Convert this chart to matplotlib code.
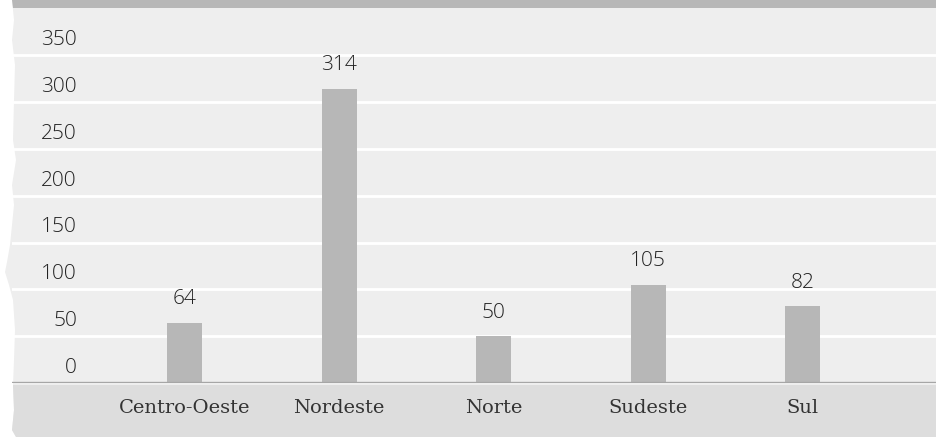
import matplotlib.pyplot as plt
from matplotlib.patches import Polygon

regions = ['Centro-Oeste', 'Nordeste', 'Norte', 'Sudeste', 'Sul']
counts = [64, 314, 50, 105, 82]
y_ticks = [0, 50, 100, 150, 200, 250, 300, 350]

W, H = 936, 440


def px(x, y):
    # pixel (from top-left) -> figure fraction
    return x / W, 1 - y / H


fig = plt.figure(figsize=(W / 100, H / 100), dpi=100)
fig.patch.set_facecolor('white')

# torn-paper background
edge = [(12, 0), (14, 20), (12, 40), (15, 65), (14, 100), (13, 140), (16, 160),
        (12, 185), (14, 205), (12, 225), (10, 245), (7, 262), (5, 272), (9, 285),
        (13, 300), (15, 330), (14, 360), (13, 385), (14, 410), (12, 430), (16, 437)]
bg = [px(936, 0)] + [px(x, y) for x, y in edge] + [px(936, 437)]
fig.patches.append(Polygon(bg, closed=True, transform=fig.transFigure,
                           facecolor='#eeeeee', edgecolor='none', zorder=-3))
top_band = [px(x, y) for x, y in [(12, 0), (936, 0), (936, 8), (13, 8)]]
fig.patches.append(Polygon(top_band, closed=True, transform=fig.transFigure,
                           facecolor='#b7b7b7', edgecolor='none', zorder=-2))
low = [(13, 385), (936, 385), (936, 437), (16, 437), (12, 430), (14, 410)]
fig.patches.append(Polygon([px(x, y) for x, y in low], closed=True, transform=fig.transFigure,
                           facecolor='#dddddd', edgecolor='none', zorder=-2))

# main axes: x from 12px to 936px, y from 8px to 383px
left, right, top, bottom = 12, 936, 8, 383
ax = fig.add_axes([left / W, 1 - bottom / H, (right - left) / W, (bottom - top) / H])
ax.set_facecolor('none')

step = 154.6  # px per category
x0 = -(184.5 - left) / step
ax.set_xlim(x0, x0 + (right - left) / step)
ymax = (bottom - top) / 46.8 * 50
ax.set_ylim(0, ymax)

for v in y_ticks[1:]:
    ax.axhline(v, color='white', lw=2, zorder=1)
ax.axhline(0, color='#a6a6a6', lw=2.4, zorder=3)

xs = range(len(regions))
ax.bar(xs, counts, width=35 / step, color='#b7b7b7', zorder=2)

num_font = dict(family=['Open Sans', 'DejaVu Sans'], fontsize=15, color='#222222',
                fontweight='light')
for i, c in zip(xs, counts):
    ax.annotate(str(c), xy=(i, c), xytext=(0, 17), textcoords='offset points',
                ha='center', va='center', **num_font)

ytrans = ax.get_yaxis_transform()
for v in y_ticks:
    ax.annotate(str(v), xy=((77 - left) / (right - left), v), xycoords=ytrans,
                xytext=(0, 11), textcoords='offset points', ha='right', va='center', **num_font)

for i, r in zip(xs, regions):
    ax.text(i, -25 / 46.8 * 50, r, ha='center', va='center', fontsize=14,
            family=['DejaVu Serif'], color='#333333')

ax.set_xticks([])
ax.set_yticks([])
for s in ax.spines.values():
    s.set_visible(False)

fig.savefig('out.png', dpi=100)
